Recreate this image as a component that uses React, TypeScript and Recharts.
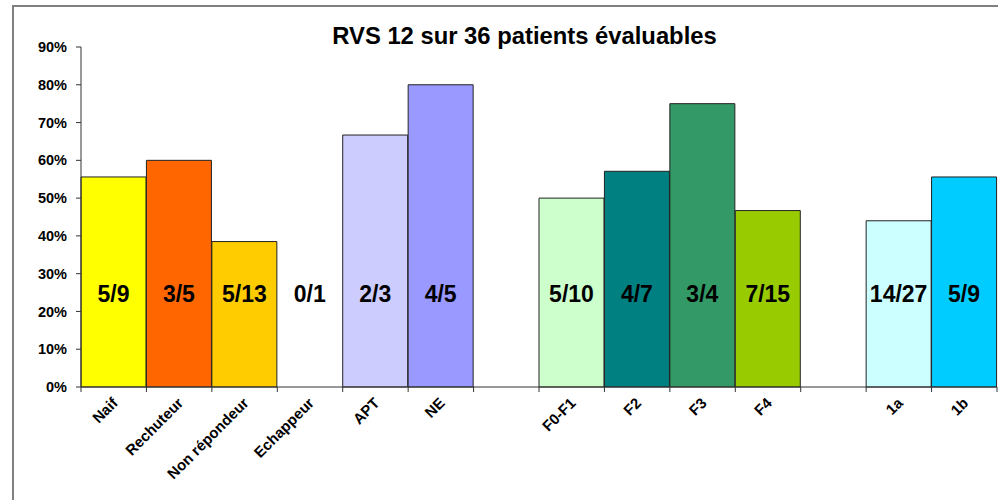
import { BarChart, Bar, XAxis, YAxis, Cell, LabelList } from 'recharts';

// categories (blank entries are the gaps between groups)
const categories = [
  'Naif', 'Rechuteur', 'Non répondeur', 'Echappeur', 'APT', 'NE', '',
  'F0-F1', 'F2', 'F3', 'F4', ' ', '1a', '1b',
];
// % RVS
const rvsPct = [55.6, 60, 38.5, 0, 66.7, 80, null, 50, 57.1, 75, 46.7, null, 44, 55.6];
const ratioLabels = [
  '5/9', '3/5', '5/13', '0/1', '2/3', '4/5', '',
  '5/10', '4/7', '3/4', '7/15', '', '14/27', '5/9',
];
const yTicks = [0, 10, 20, 30, 40, 50, 60, 70, 80, 90];

const barColors = [
  '#FFFF00', '#FF6600', '#FFCC00', 'none', '#CCCCFF', '#9999FF', 'none',
  '#CCFFCC', '#008080', '#339966', '#99CC00', 'none', '#CCFFFF', '#00CCFF',
];

const W = 998;
const H = 500;
const PLOT_LEFT = 81;
const PLOT_RIGHT = 997;
const slot = (PLOT_RIGHT - PLOT_LEFT) / categories.length;
const FONT = '"Liberation Sans", Arial, sans-serif';

const chartData = categories.map((c, i) => ({
  name: c,
  value: rvsPct[i],
  label: ratioLabels[i],
}));

function CategoryTick(props: any) {
  const { x, y, payload, index } = props;
  const left = x - slot / 2;
  const last = index === categories.length - 1;
  const text = String(payload.value).trim();
  return (
    <g>
      <line x1={left} y1={y} x2={left} y2={y + 5} stroke="#333" />
      {last && <line x1={x + slot / 2} y1={y} x2={x + slot / 2} y2={y + 5} stroke="#333" />}
      {text && (
        <text
          x={x + 5}
          y={y + 17}
          transform={`rotate(-45, ${x + 5}, ${y + 17})`}
          textAnchor="end"
          fontFamily={FONT}
          fontWeight="bold"
          fontSize={15}
          fill="#000"
        >
          {text}
        </text>
      )}
    </g>
  );
}

function RatioLabel(props: any) {
  const { x, y, width, height, value } = props;
  if (!value) return null;
  const bottom = y + height;
  return (
    <text
      x={x + width / 2}
      y={bottom - 85}
      textAnchor="middle"
      fontFamily={FONT}
      fontWeight="bold"
      fontSize={23}
      fill="#000"
    >
      {value}
    </text>
  );
}

export default function App() {
  return (
    <div style={{ position: 'absolute', left: 0, top: 0, width: W, height: H, overflow: 'hidden', background: '#fff' }}>
      <div
        style={{
          position: 'absolute',
          left: 12,
          top: 5,
          width: 1100,
          height: 700,
          border: '2px solid #808080',
        }}
      />
      <div
        style={{
          position: 'absolute',
          left: 0,
          top: 22,
          width: 1049,
          textAlign: 'center',
          fontFamily: FONT,
          fontWeight: 'bold',
          fontSize: 23.8,
          lineHeight: '28px',
          color: '#000',
        }}
      >
        RVS 12 sur 36 patients évaluables
      </div>
      <div style={{ position: 'absolute', left: 0, top: 0 }}>
        <BarChart
          width={W}
          height={H}
          data={chartData}
          margin={{ top: 47, right: W - PLOT_RIGHT, bottom: 0, left: 0 }}
          barCategoryGap={0}
          barGap={0}
        >
          <XAxis
            dataKey="name"
            interval={0}
            height={113}
            tickLine={false}
            tickSize={0}
            tickMargin={0}
            axisLine={{ stroke: '#333' }}
            tick={<CategoryTick />}
          />
          <YAxis
            width={PLOT_LEFT}
            domain={[0, 90]}
            ticks={yTicks}
            interval={0}
            tickSize={5}
            tickMargin={9}
            axisLine={{ stroke: '#333' }}
            tickLine={{ stroke: '#333' }}
            tickFormatter={(v: number) => `${v}%`}
            tick={{ fontFamily: FONT, fontWeight: 'bold', fontSize: 14.5, fill: '#000' }}
          />
          <Bar
            dataKey="value"
            stroke="#222"
            strokeWidth={1}
            minPointSize={1}
            isAnimationActive={false}
          >
            {chartData.map((d, i) => (
              <Cell key={i} fill={barColors[i]} stroke={d.value ? '#222' : 'none'} />
            ))}
            <LabelList dataKey="label" content={<RatioLabel />} />
          </Bar>
        </BarChart>
      </div>
    </div>
  );
}
